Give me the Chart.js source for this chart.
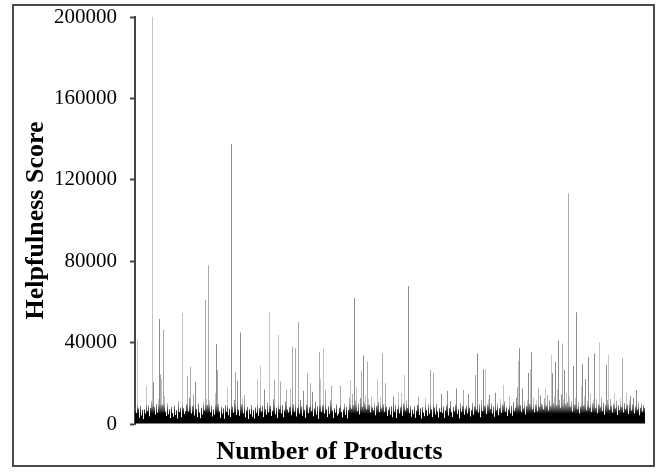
<!DOCTYPE html>
<html lang="en">
<head>
    <meta charset="UTF-8" />
    <title>Helpfulness Score per Product</title>
    <script src="https://cdn.jsdelivr.net/npm/chart.js"></script>
    <style>
        body { margin: 0; background: #fff; }
        #frame {
            position: absolute; left: 12px; top: 4px;
            width: 639px; height: 459px;
            border: 2px solid #4a4a4a;
        }
    </style>
</head>
<body>
    <div id="frame"><canvas id="scoreChart" width="639" height="459"></canvas></div>

    <script>
        // helpfulness score of each product (left to right)
        const helpfulness = [
            8200, 5400, 41700, 7600, 3100, 8800, 4200, 6900, 2500, 7300, 5200, 18700, 6400, 9100, 3800, 7900, 11200, 200000, 20400, 8300, 4700, 9800, 5600, 12300, 51600,
            24500, 22100, 9400, 46200, 13800, 6100, 3900, 10600, 4800, 7200, 2900, 8400, 5300, 3600, 9000, 4400, 6800, 2700, 11300, 5900, 8100, 3300, 54500, 7700, 4900, 6300,
            9600, 23600, 6300, 12900, 28100, 5100, 8700, 14600, 4200, 20800, 7400, 3500, 9900, 5700, 2800, 8000, 4600, 10800, 6700, 61000, 12400, 9300, 78000, 11700, 5800,
            8900, 3700, 7100, 4500, 15200, 39300, 26500, 10100, 6200, 3000, 8500, 5000, 7800, 2600, 9200, 6000, 18000, 4300, 7500, 3400, 137600, 8600, 5500, 11900, 25700, 4400,
            21300, 7000, 4100, 45000, 9700, 12700, 5200, 14200, 3200, 6600, 8300, 2400, 7200, 4800, 9500, 3600, 6900, 2700, 8100, 5400, 22000, 4000, 7700, 28500, 6100,
            9000, 3500, 17000, 7300, 4600, 10400, 5800, 54900, 8800, 3900, 6500, 12200, 21600, 4700, 8000, 2900, 43700, 7400, 20800, 5100, 9300, 3300, 6800, 11000, 16700, 7100,
            5600, 8400, 17200, 4300, 38000, 9800, 6200, 37200, 3700, 7900, 50300, 5000, 11800, 8600, 4100, 16400, 7000, 3100, 9400, 24900, 5300, 8200, 20000, 6400, 15900,
            3800, 7600, 10900, 4500, 8700, 2600, 35500, 22000, 6000, 9100, 37500, 5200, 16700, 7300, 3400, 8900, 4900, 11500, 18700, 6600, 3000, 7800, 5500, 9600, 4200, 5000,
            8000, 18700, 5900, 3200, 7100, 10200, 4400, 8500, 2800, 6900, 12600, 21600, 7500, 14800, 9200, 61900, 11400, 18000, 6300, 9900, 4700, 12800, 26200, 8300, 33600,
            10600, 14100, 7200, 30600, 12300, 9400, 5600, 13500, 8100, 6700, 11100, 4300, 8800, 22000, 10700, 5900, 13200, 7600, 34700, 9700, 6000, 20000, 8400, 3900, 7000, 8300,
            4600, 8900, 3300, 13400, 6200, 9500, 2900, 7400, 15900, 5100, 8200, 15100, 4000, 10300, 24100, 6800, 11600, 7900, 67800, 5300, 9000, 3600, 7100, 4800, 8600,
            3100, 6500, 9300, 13400, 4400, 7700, 2700, 8300, 5600, 3800, 12600, 6900, 4100, 9800, 5000, 26500, 7300, 3500, 25200, 8100, 4700, 10000, 6100, 3200, 7800, 5900,
            14700, 5400, 8700, 3000, 6600, 9200, 16200, 4200, 7900, 11300, 5800, 3400, 8400, 6300, 9700, 17500, 4900, 7200, 2800, 10500, 6000, 8800, 16700, 4500, 7500,
            9100, 5200, 14700, 8000, 3700, 6700, 10600, 4600, 8500, 24100, 7000, 34700, 5700, 9900, 3300, 11800, 6400, 26900, 8900, 27000, 4800, 9600, 12100, 14300, 7400, 10400,
            5000, 8600, 3600, 15400, 6800, 10200, 4300, 7700, 12400, 5500, 9400, 19200, 11000, 6100, 8200, 3900, 7100, 13800, 5300, 9000, 4100, 10800, 6500, 8100, 12900,
            18000, 31000, 37200, 9300, 6000, 17500, 7600, 11200, 4700, 8800, 12000, 25200, 9800, 26500, 35200, 7200, 13100, 5800, 9500, 11700, 6300, 17500, 8400, 14000, 10100, 9200,
            7300, 12600, 17500, 9100, 14300, 6600, 11500, 8700, 33900, 24900, 10400, 13700, 30600, 9200, 16900, 40900, 11900, 8000, 14500, 39600, 12200, 26500, 9900, 15300, 10700,
            113300, 13300, 8500, 11100, 6200, 28500, 9600, 12800, 54900, 7400, 10900, 5100, 8300, 18700, 29500, 9000, 13600, 22000, 6700, 11400, 32800, 8100, 14900, 5900, 10300, 11800,
            34700, 7700, 12400, 5300, 9700, 40000, 8200, 13000, 6400, 10600, 4600, 9300, 29000, 11800, 33900, 7000, 12300, 8900, 5600, 10000, 15100, 7600, 11400, 4400, 9100,
            6900, 12700, 8400, 32300, 5700, 10200, 7300, 15400, 9400, 4900, 11600, 13800, 6600, 9800, 12900, 5200, 8600, 16700, 7100, 11000, 4300, 8000, 10500, 6200, 9300, 7900
        ];
        const products = helpfulness.map((_, i) => i + 1);
        const yTicks = [0, 40000, 80000, 120000, 160000, 200000];

        const serif = "'Liberation Serif', 'Times New Roman', serif";
        const topGrays = ['#8c8c8c', '#a8a8a8', '#c4c4c4'];

        // dense base looks black, taller bars fade to grey like the original
        function barFill(context) {
            const chart = context.chart;
            if (!chart.chartArea) return '#000';
            const y = chart.scales.y;
            const y0 = y.getPixelForValue(0);
            const y1 = y.getPixelForValue(10000);
            const g = chart.ctx.createLinearGradient(0, y0, 0, y1);
            g.addColorStop(0, '#000');
            g.addColorStop(0.5, '#000');
            g.addColorStop(0.75, '#5a5a5a');
            g.addColorStop(1, topGrays[context.dataIndex % 3]);
            return g;
        }

        const ctx = document.getElementById('scoreChart').getContext('2d');
        new Chart(ctx, {
            type: 'bar',
            data: {
                labels: products,
                datasets: [{
                    label: 'Helpfulness Score',
                    data: helpfulness,
                    backgroundColor: barFill,
                    borderWidth: 0,
                    barPercentage: 1,
                    categoryPercentage: 1,
                    inflateAmount: 0
                }]
            },
            options: {
                responsive: false,
                animation: false,
                layout: { padding: { top: 11, right: 8, left: 0, bottom: 0 } },
                plugins: {
                    legend: { display: false },
                    tooltip: { enabled: false },
                    title: {
                        display: true,
                        position: 'bottom',
                        text: 'Number of Products',
                        color: '#000',
                        font: { family: serif, size: 26, weight: 'bold', lineHeight: 1 },
                        padding: { top: 10, bottom: 0 }
                    }
                },
                scales: {
                    x: {
                        ticks: { display: false },
                        grid: { display: false },
                        border: { display: false },
                        afterFit: s => { s.height = 5; }
                    },
                    y: {
                        min: 0,
                        max: 200000,
                        afterBuildTicks: s => { s.ticks = yTicks.map(v => ({ value: v })); },
                        afterFit: s => {
                            s.width = 121;
                            s.paddingTop = 11;
                            s.paddingBottom = 0;
                        },
                        ticks: {
                            color: '#000',
                            padding: 13,
                            font: { family: serif, size: 21 },
                            callback: v => String(v)
                        },
                        grid: {
                            drawOnChartArea: false,
                            drawTicks: true,
                            tickLength: 5,
                            tickColor: '#444',
                            tickWidth: 2
                        },
                        border: { display: true, color: '#444', width: 2 },
                        title: {
                            display: true,
                            text: 'Helpfulness Score',
                            color: '#000',
                            font: { family: serif, size: 26, weight: 'bold' },
                            padding: { top: 7, bottom: 0 }
                        }
                    }
                }
            }
        });
    </script>
</body>
</html>
